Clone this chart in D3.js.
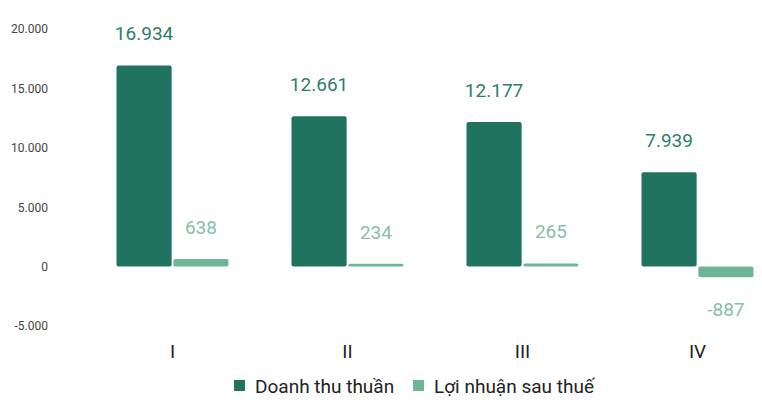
<!DOCTYPE html>
<html>
<head>
<meta charset="utf-8">
<script src="https://cdn.jsdelivr.net/npm/d3@7"></script>
<style>
  body { margin: 0; background: #fff; }
  text { font-family: Roboto, "Noto Sans", sans-serif; }
</style>
</head>
<body>
<div id="chart"></div>
<script>
const quarters = ["I", "II", "III", "IV"]
const seriesNames = ["Doanh thu thuần", "Lợi nhuận sau thuế"]
const revenue = [16934, 12661, 12177, 7939]
const profit = [638, 234, 265, -887]
const yTicks = [-5000, 0, 5000, 10000, 15000, 20000]

const width = 762
const height = 411
const colors = ["#20745f", "#6db594"]
const labelColors = ["#2b7f69", "#86bfa3"]

const data = quarters.map((q, i) => ({q, values: [revenue[i], profit[i]]}))

const x0 = d3.scaleBand()
    .domain(quarters)
    .range([85, 785])
    .padding(0)

const x1 = d3.scaleBand()
    .domain(d3.range(seriesNames.length))
    .range([x0.bandwidth() / 2 - 56, x0.bandwidth() / 2 + 56])
    .paddingInner(0.03)

const y = d3.scaleLinear()
    .domain([-5000, 20000])
    .range([326, 29])

// vietnamese style: dot thousands, plain hyphen minus
const fmt = v => d3.format(",")(v).replace(/,/g, ".").replace("\u2212", "-")

const svg = d3.select("#chart").append("svg")
    .attr("width", width)
    .attr("height", height)

// y axis labels
svg.append("g")
    .attr("transform", "translate(48,0)")
    .call(d3.axisLeft(y).tickValues(yTicks).tickFormat(fmt).tickSize(0).tickPadding(0))
    .call(g => g.select(".domain").remove())
    .call(g => g.selectAll("text")
        .attr("font-size", 12)
        .attr("fill", "#444")
        .attr("font-family", "Roboto, sans-serif"))

// x category labels
svg.append("g")
    .attr("transform", "translate(0,339)")
    .call(d3.axisBottom(x0).tickSize(0).tickPadding(0))
    .call(g => g.select(".domain").remove())
    .call(g => g.selectAll("text")
        .attr("font-size", 19)
        .attr("fill", "#222")
        .attr("dy", "1em")
        .attr("font-family", "Roboto, sans-serif"))

const groups = svg.append("g")
  .selectAll("g")
  .data(data)
  .join("g")
    .attr("transform", d => `translate(${x0(d.q)},0)`)

const cells = groups.selectAll("g")
  .data(d => d.values.map((v, i) => ({v, i})))
  .join("g")

cells.append("rect")
    .attr("x", d => x1(d.i))
    .attr("width", x1.bandwidth())
    .attr("y", d => y(Math.max(0, d.v)))
    .attr("height", d => Math.abs(y(d.v) - y(0)))
    .attr("rx", 2)
    .attr("fill", d => colors[d.i])

cells.append("text")
    .attr("x", d => x1(d.i) + x1.bandwidth() / 2)
    .attr("y", d => d.v >= 0 ? y(d.v) - 25 : y(d.v) + 39)
    .attr("text-anchor", "middle")
    .attr("font-size", 19)
    .attr("fill", d => labelColors[d.i])
    .text(d => fmt(d.v))

// legend
const legend = svg.append("g")
    .attr("transform", "translate(234,386)")

const items = legend.selectAll("g")
  .data(seriesNames)
  .join("g")
    .attr("transform", (d, i) => `translate(${i === 0 ? 0 : 179},0)`)

items.append("rect")
    .attr("x", 0)
    .attr("y", -6)
    .attr("width", 11)
    .attr("height", 11)
    .attr("fill", (d, i) => colors[i])

items.append("text")
    .attr("x", 21)
    .attr("y", 0)
    .attr("dy", "0.35em")
    .attr("font-size", 19)
    .attr("fill", "#222")
    .text(d => d)
</script>
</body>
</html>
